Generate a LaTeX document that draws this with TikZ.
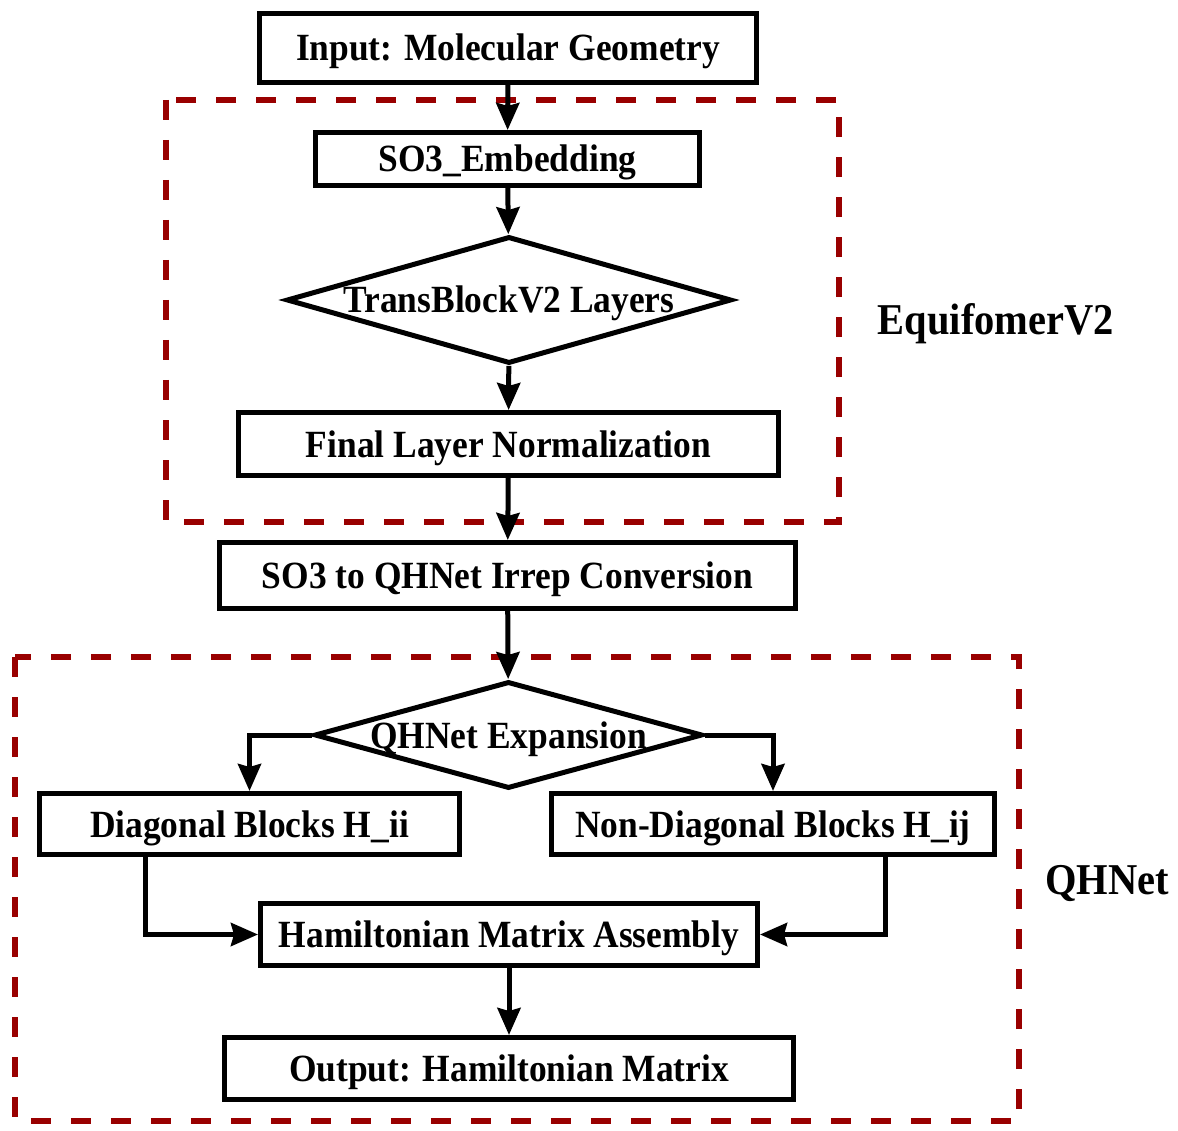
\documentclass[tikz,border=0pt]{standalone}
\usepackage{fontspec}
\setmainfont{Liberation Serif}
\newfontfamily\labelfont[FakeStretch=0.92]{Liberation Serif Bold}
\usetikzlibrary{shapes.geometric,arrows.meta}
\definecolor{clusterred}{HTML}{990000}
\begin{document}
\begin{tikzpicture}[x=1pt,y=-1pt,
  every node/.style={font=\labelfont\fontsize{38.5}{44}\selectfont, text height=26pt, text depth=0pt},
  grouplabel/.style={font=\labelfont\fontsize{44}{50}\selectfont, text height=29pt},
  stepbox/.style={draw, rectangle, line width=5pt, inner sep=0pt},
  choice/.style={draw, diamond, line width=5pt, inner sep=0pt},
  cluster/.style={draw=clusterred, line width=5.5pt, dash pattern=on 20pt off 20pt},
  arr/.style={line width=5pt, -{Stealth[length=27pt,width=23pt,inset=3pt]}}]
\useasboundingbox (0,0) rectangle (1178,1131);
% dashed groups
\draw[cluster] (166,100) rectangle (839,522);
\draw[cluster] (15,657) rectangle (1019,1121);
\node[grouplabel] (eqlabel) at (996,320) {EquifomerV2};
\node[grouplabel] (qhlabel) at (1107,880) {QHNet};
% main chain
\node[stepbox, minimum width=497pt, minimum height=69pt] (input) at (508,48) {Input: Molecular Geometry};
\node[stepbox, minimum width=384pt, minimum height=53pt] (embed) at (507.5,159) {SO3\_Embedding};
\node[choice, minimum width=445pt, minimum height=127pt] (trans) at (509,300) {\makebox[0pt]{TransBlockV2 Layers}};
\node[stepbox, minimum width=540pt, minimum height=63pt] (final) at (508.5,444) {Final Layer Normalization};
\node[stepbox, minimum width=576pt, minimum height=66pt] (conv) at (507.5,575.5) {SO3 to QHNet Irrep Conversion};
\node[choice, minimum width=388pt, minimum height=107pt] (expand) at (508.5,735) {\makebox[0pt]{QHNet Expansion}};
\node[stepbox, minimum width=420pt, minimum height=61pt] (diag) at (249.5,824) {Diagonal Blocks H\_ii};
\node[stepbox, minimum width=443pt, minimum height=61pt] (nondiag) at (773,824) {Non-Diagonal Blocks H\_ij};
\node[stepbox, minimum width=497pt, minimum height=62pt] (ham) at (509,934.5) {Hamiltonian Matrix Assembly};
\node[stepbox, minimum width=569pt, minimum height=62pt] (out) at (509,1068.5) {Output: Hamiltonian Matrix};
% connectors
\draw[arr] (input) -- (embed);
\draw[arr] (embed) -- (trans);
\draw[arr] (trans) -- (final);
\draw[arr] (final) -- (conv);
\draw[arr] (conv) -- (expand);
\draw[arr] (expand.west) -| (diag);
\draw[arr] (expand.east) -| (nondiag);
\draw[arr] ([xshift=-104.5pt]diag.south) |- (ham.west);
\draw[arr] ([xshift=112pt]nondiag.south) |- (ham.east);
\draw[arr] (ham) -- (out);
\end{tikzpicture}
\end{document}
